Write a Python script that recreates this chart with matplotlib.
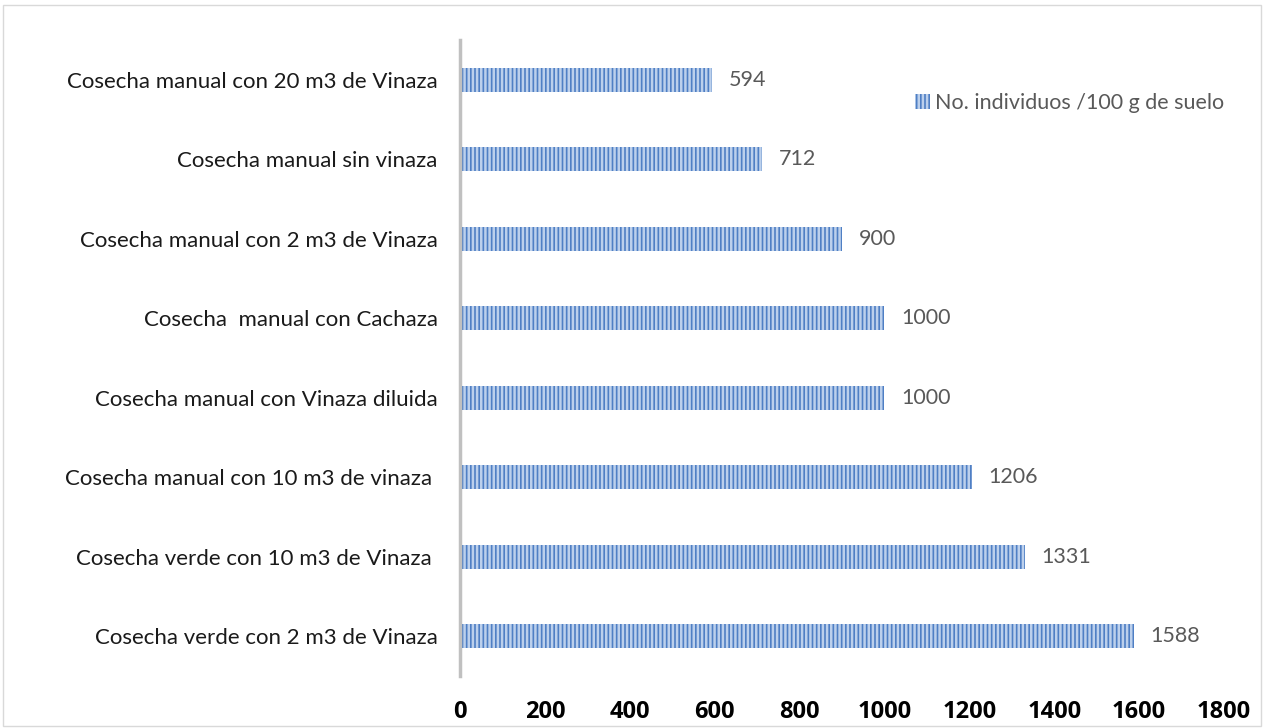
import matplotlib
matplotlib.use('Agg')
import matplotlib.pyplot as plt
from matplotlib.patches import Rectangle

categories = [
    'Cosecha verde con 2 m3 de Vinaza',
    'Cosecha verde con 10 m3 de Vinaza ',
    'Cosecha manual con 10 m3 de vinaza ',
    'Cosecha manual con Vinaza diluida',
    'Cosecha  manual con Cachaza',
    'Cosecha manual con 2 m3 de Vinaza',
    'Cosecha manual sin vinaza',
    'Cosecha manual con 20 m3 de Vinaza',
]
values = [1588, 1331, 1206, 1000, 1000, 900, 712, 594]
xticks = [0, 200, 400, 600, 800, 1000, 1200, 1400, 1600, 1800]
series_name = 'No. individuos /100 g de suelo'

plt.rcParams['font.family'] = ['Lato', 'DejaVu Sans']
plt.rcParams['hatch.linewidth'] = 1.8
plt.rcParams['hatch.color'] = '#bcd0ec'

fig = plt.figure(figsize=(12.64, 7.28), dpi=100)
ax = fig.add_axes([460 / 1264, 52 / 728, 764 / 1264, 636 / 728])

bars = ax.barh(range(len(values)), values, height=0.3, color='#4f7fc4',
               hatch='||||', edgecolor='#bcd0ec', linewidth=0,
               label=series_name)

for i, v in enumerate(values):
    ax.annotate(str(v), (v, i), xytext=(12, 0), textcoords='offset points',
                va='center', ha='left', fontsize=15.5, color='#595959')

ax.set_yticks(range(len(categories)))
ax.set_yticklabels(categories, fontsize=16, color='#1a1a1a')
ax.set_xticks(xticks)
ax.set_xticklabels([str(t) for t in xticks], fontsize=17, fontweight='bold',
                   family=['Open Sans', 'DejaVu Sans'])
ax.set_xlim(0, 1800)
ax.set_ylim(-0.5, 7.5)

for s in ['top', 'right', 'bottom']:
    ax.spines[s].set_visible(False)
ax.spines['left'].set_color('#c0c0c0')
ax.spines['left'].set_linewidth(2.5)
ax.tick_params(axis='x', length=0, pad=17)
ax.tick_params(axis='y', length=0, pad=16)

leg = ax.legend(loc='upper left', bbox_to_anchor=(896 / 1264, 654 / 728),
                bbox_transform=fig.transFigure, frameon=False,
                fontsize=15.5, handlelength=0.7, handleheight=0.7,
                handletextpad=0.2, labelcolor='#595959')

fig.patches.append(Rectangle((0.002, 0.003), 0.996, 0.99, transform=fig.transFigure,
                             fill=False, edgecolor='#d9d9d9', linewidth=1))

fig.savefig('out.png', dpi=100)
